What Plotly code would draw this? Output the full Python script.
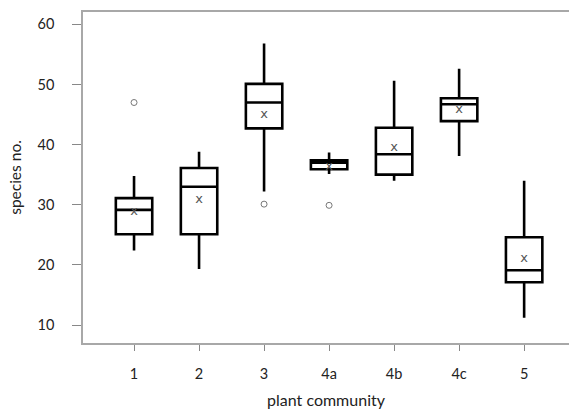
import plotly.graph_objects as go

# Plant community categories and box statistics (species number)
communities = ["1", "2", "3", "4a", "4b", "4c", "5"]
lower_whisker = [22.4, 19.3, 32.2, 35.1, 34.0, 38.1, 11.2]
q1_values = [25.1, 25.1, 42.7, 35.9, 35.0, 43.9, 17.1]
median_values = [29.15, 33.0, 47.0, 37.0, 38.4, 46.7, 19.1]
q3_values = [31.1, 36.1, 50.1, 37.4, 42.8, 47.7, 24.6]
upper_whisker = [34.8, 38.8, 56.8, 38.7, 50.6, 52.6, 34.0]
mean_values = [28.8, 30.9, 44.9, 36.3, 39.5, 45.8, 21.1]

# Outlying observations
outlier_groups = ["1", "3", "4a"]
outlier_values = [47.0, 30.1, 29.9]

y_ticks = [10, 20, 30, 40, 50, 60]

font_family = "Lato, 'Open Sans', sans-serif"
frame_color = "#a8a8a8"

fig = go.Figure()

fig.add_trace(go.Box(
    x=communities,
    q1=q1_values,
    median=median_values,
    q3=q3_values,
    lowerfence=lower_whisker,
    upperfence=upper_whisker,
    line=dict(color="black", width=2.6),
    fillcolor="white",
    whiskerwidth=0,
    boxpoints=False,
    showlegend=False,
    hoverinfo="skip",
))

# Group means drawn as an "x"
fig.add_trace(go.Scatter(
    x=communities,
    y=mean_values,
    mode="text",
    text=["x"] * len(communities),
    textposition="middle center",
    textfont=dict(family="DejaVu Sans, sans-serif", size=13, color="#555555"),
    showlegend=False,
    hoverinfo="skip",
))

# Outliers as open circles
fig.add_trace(go.Scatter(
    x=outlier_groups,
    y=outlier_values,
    mode="markers",
    marker=dict(symbol="circle-open", size=6, color="#777777", line=dict(width=1)),
    showlegend=False,
    hoverinfo="skip",
))

fig.update_layout(
    width=569,
    height=412,
    margin=dict(l=83, r=0, t=12, b=69),
    paper_bgcolor="white",
    plot_bgcolor="white",
    boxgap=0.2,
    font=dict(family=font_family, size=14, color="#222222"),
    xaxis=dict(
        type="category",
        categoryorder="array",
        categoryarray=communities,
        range=[-0.785, 6.69],
        showgrid=False,
        zeroline=False,
        showline=True,
        linecolor=frame_color,
        linewidth=1.5,
        mirror=True,
        ticks="outside",
        ticklen=6,
        tickwidth=1.2,
        tickcolor="#888888",
        ticklabelstandoff=11,
        tickfont=dict(size=14.5),
        title=dict(text="plant community", font=dict(size=16), standoff=14),
    ),
    yaxis=dict(
        range=[7.01, 62.05],
        tickvals=y_ticks,
        showgrid=False,
        zeroline=False,
        showline=True,
        linecolor=frame_color,
        linewidth=1.5,
        ticks="outside",
        ticklen=9,
        tickwidth=1.2,
        tickcolor="#888888",
        ticklabelstandoff=15,
        tickfont=dict(size=14.5),
        title=dict(text="species no.", font=dict(size=15.5), standoff=12),
    ),
)

fig.write_html("out.html")
